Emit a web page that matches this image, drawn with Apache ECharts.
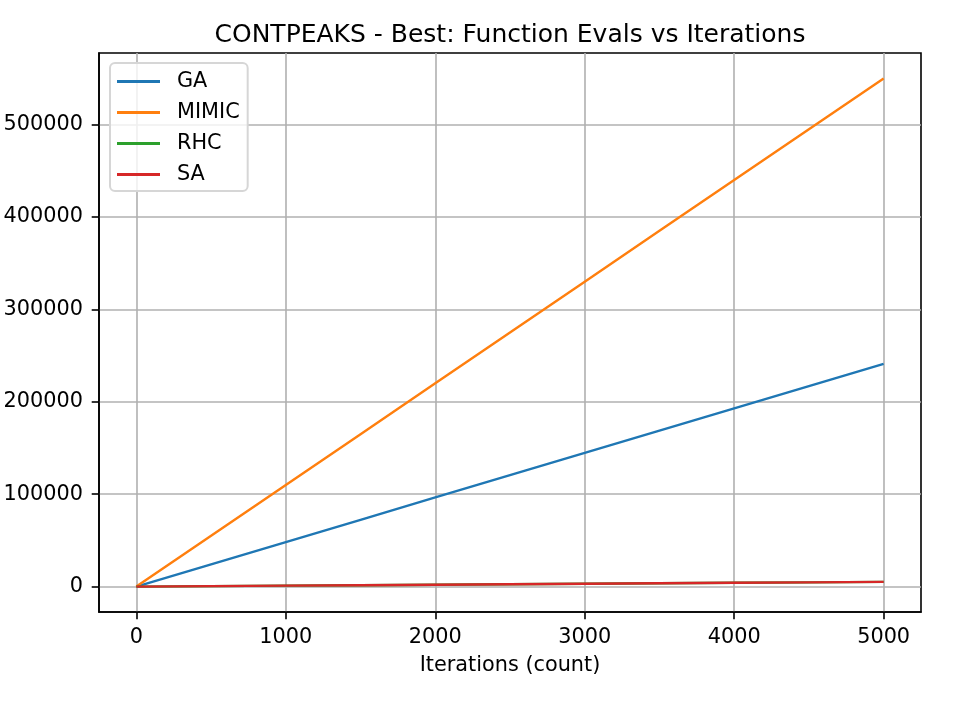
<!DOCTYPE html>
<html>
<head>
<meta charset="utf-8">
<script src="https://cdn.jsdelivr.net/npm/echarts@6/dist/echarts.min.js"></script>
<style>
html,body{margin:0;padding:0;background:#fff;}
#chart{width:960px;height:720px;}
</style>
</head>
<body>
<div id="chart"></div>
<script>
const iterations = [0, 500, 1000, 1500, 2000, 2500, 3000, 3500, 4000, 4500, 5000];
const gaEvals    = [0, 24100, 48200, 72300, 96500, 120600, 144700, 168800, 192900, 217000, 241100];
const mimicEvals = [0, 55000, 110000, 165000, 220000, 275000, 330000, 385000, 440000, 495000, 550000];
const rhcEvals   = [1, 510, 1020, 1530, 2040, 2550, 3060, 3570, 4080, 4590, 5100];
const saEvals    = [1, 510, 1020, 1530, 2040, 2550, 3060, 3570, 4080, 4590, 5100];
const xTicks = [0, 1000, 2000, 3000, 4000, 5000];
const yTicks = [0, 100000, 200000, 300000, 400000, 500000];
const seriesNames = ['GA', 'MIMIC', 'RHC', 'SA'];
const seriesColors = ['#1f77b4', '#ff7f0e', '#2ca02c', '#d62728'];
const seriesData = [gaEvals, mimicEvals, rhcEvals, saEvals];

const font = 'DejaVu Sans';
const chart = echarts.init(document.getElementById('chart'), null, {renderer: 'canvas'});

function pairs(xs, ys) { return xs.map((x, i) => [x, ys[i]]); }

chart.setOption({
  animation: false,
  backgroundColor: '#ffffff',
  title: {
    text: 'CONTPEAKS - Best: Function Evals vs Iterations',
    left: 505, top: 18, textAlign: 'center',
    textStyle: {fontFamily: font, fontSize: 25, fontWeight: 'normal', color: '#000', lineHeight: 25}
  },
  grid: {
    left: 99, right: 39, top: 53, bottom: 108,
    show: true, borderColor: '#000', borderWidth: 1.6, backgroundColor: 'transparent',
    containLabel: false
  },
  legend: {
    orient: 'vertical', left: 110, top: 63,
    padding: [8, 8, 6, 7],
    itemWidth: 43, itemHeight: 3, itemGap: 10,
    icon: 'rect',
    backgroundColor: 'rgba(255,255,255,0.8)',
    borderColor: '#d6d6d6', borderWidth: 2, borderRadius: 5,
    textStyle: {fontFamily: font, fontSize: 20.8, color: '#000', lineHeight: 21, padding: [0, 0, 0, 12]},
    data: seriesNames
  },
  xAxis: {
    type: 'value', min: -250, max: 5250,
    name: 'Iterations (count)', nameLocation: 'middle', nameGap: 43,
    nameTextStyle: {fontFamily: font, fontSize: 20.8, color: '#000', lineHeight: 21},
    axisLine: {show: true, onZero: false, lineStyle: {color: '#000', width: 1.6}},
    axisTick: {show: true, inside: false, length: 7.3, lineStyle: {color: '#000', width: 1.6}, customValues: xTicks},
    axisLabel: {margin: 15, fontFamily: font, fontSize: 20.8, color: '#000', customValues: xTicks, formatter: v => String(v)},
    splitLine: {show: true, lineStyle: {color: '#b0b0b0', width: 1.6}}
  },
  yAxis: {
    type: 'value', min: -27500, max: 577500,
    axisLine: {show: true, onZero: false, lineStyle: {color: '#000', width: 1.6}},
    axisTick: {show: true, inside: false, length: 7.3, lineStyle: {color: '#000', width: 1.6}, customValues: yTicks},
    axisLabel: {margin: 16, fontFamily: font, fontSize: 20.8, color: '#000', customValues: yTicks, formatter: v => String(v)},
    splitLine: {show: true, lineStyle: {color: '#b0b0b0', width: 1.6}}
  },
  series: seriesNames.map((n, i) => ({
    name: n, type: 'line', symbol: 'none', showSymbol: false,
    data: pairs(iterations, seriesData[i]),
    lineStyle: {color: seriesColors[i], width: 2.4},
    itemStyle: {color: seriesColors[i]},
    z: 3 + i
  }))
});
</script>
</body>
</html>
